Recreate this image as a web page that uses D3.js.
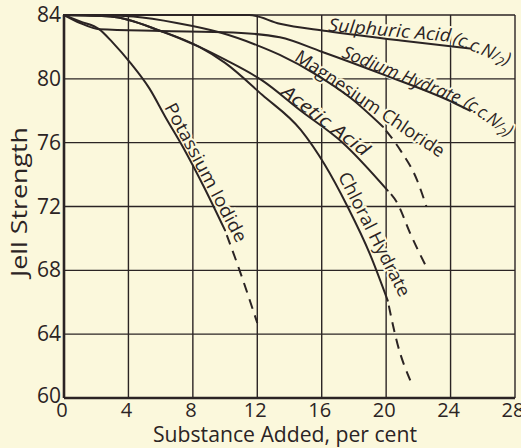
<!DOCTYPE html>
<html>
<head>
<meta charset="utf-8">
<script src="https://cdn.jsdelivr.net/npm/d3@7"></script>
<style>
  html, body { margin: 0; padding: 0; background: #fbf8dc; }
  svg { display: block; }
</style>
</head>
<body>
<svg id="chart" width="521" height="448"></svg>
<script>
// ---------- data ----------
const xTicks = [0, 4, 8, 12, 16, 20, 24, 28];
const yTicks = [60, 64, 68, 72, 76, 80, 84];

const sulphuricSolid = [[0,84],[6,84],[11.5,84],[13.4,83.45],[16.3,83.0],[20.9,82.4],[25.2,81.9]];
const sodiumSolid    = [[0,84],[1,83.5],[2.2,83.1],[6,83.0],[10.5,82.9],[13.4,82.6],[16,81.7],[20,80.2],[24.2,78.5],[25.2,78.0]];
const magnesiumSolid = [[0,84],[2,84],[4.3,83.9],[7,83.5],[9.7,82.9],[12,82.1],[13.4,81.5],[15.6,80.3],[17.8,78.8],[19.8,77.0]];
const magnesiumDash  = [[19.8,77.0],[20.9,75.5],[21.9,73.7],[22.5,72.0]];
const aceticSolid    = [[0,84],[2.9,83.9],[6,83.0],[8.4,82.0],[10,81.2],[12.3,79.9],[14.7,78.0],[17.3,76.0],[20.1,73.0]];
const aceticDash     = [[20.1,73.0],[20.7,72.2],[21.5,70.3],[22.5,68.2]];
const chloralSolid   = [[0,84],[2.9,83.9],[6,83.0],[8.4,82.0],[10,81.0],[12.3,79.0],[14.7,76.8],[16.2,74.6],[17.6,72.0],[19.0,69.0],[20.1,66.1]];
const chloralDash    = [[20.1,66.1],[20.7,63.4],[21.5,61.1]];
const potassiumSolid = [[0,84],[1,83.6],[2.2,83.1],[3,82.3],[4.2,80.9],[5.3,79.4],[6.3,77.6],[7.4,75.7],[8.65,73.3],[10,70.5]];
const potassiumDash  = [[10,70.5],[10.9,68.0],[12,64.7]];

const seriesNames = ["Sulphuric Acid", "Sodium Hydrate", "Magnesium Chloride", "Acetic Acid", "Chloral Hydrate", "Potassium Iodide"];

// ---------- layout ----------
const INK = "#2b2424";
const BG = "#fbf8dc";
const svg = d3.select("#chart");
svg.append("rect").attr("width", 521).attr("height", 448).attr("fill", BG);

const x = d3.scaleLinear().domain([0, 28]).range([64, 515]);
const y = d3.scaleLinear().domain([60, 84]).range([398, 15]);

// grid
const grid = svg.append("g").attr("stroke", INK).attr("stroke-width", 1.4);
grid.selectAll("line.v").data(xTicks).join("line")
  .attr("x1", d => x(d)).attr("x2", d => x(d))
  .attr("y1", y(84)).attr("y2", y(60));
grid.selectAll("line.h").data(yTicks).join("line")
  .attr("y1", d => y(d)).attr("y2", d => y(d))
  .attr("x1", x(0)).attr("x2", x(28));

// curve labels (halo breaks the grid like the hand-drawn original)
const labelFont = "'Open Sans', 'DejaVu Sans', sans-serif";
const labels = [
  { t: "Sulphuric Acid", lx: 16.39, ly: 83.0, a: 5, len: 123, it: true },
  { t: "(c.c.N", sub: true, lx: 24.09, ly: 82.25, a: 22, len: 60, it: true },
  { t: "Sodium Hydrate", lx: 17.2, ly: 81.37, a: 22, len: 126, it: true },
  { t: "(c.c.N", sub: true, lx: 24.77, ly: 78.36, a: 36, len: 55, it: true },
  { t: "Magnesium Chloride", lx: 14.25, ly: 81.2, a: 34, len: 176, it: false },
  { t: "Acetic Acid", lx: 13.41, ly: 79.05, a: 37, len: 105, it: true },
  { t: "Chloral Hydrate", lx: 17.0, ly: 73.91, a: 63, len: 137, it: false },
  { t: "Potassium Iodide", lx: 6.21, ly: 78.24, a: 62, len: 155, it: false }
];
const lg = svg.append("g");
labels.forEach(L => {
  const tx = lg.append("text")
    .attr("transform", `translate(${x(L.lx)},${y(L.ly)}) rotate(${L.a})`)
    .attr("font-family", labelFont)
    .attr("font-size", 18)
    .attr("font-style", L.it ? "italic" : "normal")
    .attr("fill", INK)
    .attr("stroke", BG).attr("stroke-width", 4).attr("paint-order", "stroke")
    .attr("textLength", L.len).attr("lengthAdjust", "spacingAndGlyphs");
  tx.append("tspan").text(L.t);
  if (L.sub) {
    tx.append("tspan").attr("font-size", 14).text("/");
    tx.append("tspan").attr("font-size", 13).attr("dy", 4).text("2");
    tx.append("tspan").attr("dy", -4).text(")");
  }
});

// curves
const line = d3.line().x(d => x(d[0])).y(d => y(d[1])).curve(d3.curveMonotoneX);
const solids = [sulphuricSolid, sodiumSolid, magnesiumSolid, aceticSolid, chloralSolid, potassiumSolid];
const dashes = [magnesiumDash, aceticDash, chloralDash, potassiumDash];
svg.append("g").selectAll("path").data(solids).join("path")
  .attr("d", line).attr("fill", "none").attr("stroke", INK).attr("stroke-width", 2)
  .attr("stroke-linecap", "round");
svg.append("g").selectAll("path").data(dashes).join("path")
  .attr("d", line).attr("fill", "none").attr("stroke", INK).attr("stroke-width", 2)
  .attr("stroke-dasharray", "10,7").attr("stroke-dashoffset", -5);

// axes (heavier left and bottom)
svg.append("line").attr("x1", x(0)).attr("x2", x(0)).attr("y1", y(84)).attr("y2", y(60))
  .attr("stroke", INK).attr("stroke-width", 2.6);
svg.append("line").attr("x1", x(0)).attr("x2", x(28)).attr("y1", y(60)).attr("y2", y(60))
  .attr("stroke", INK).attr("stroke-width", 2.6);

const tickFont = "'Open Sans', 'DejaVu Sans', sans-serif";
svg.append("g").selectAll("text").data(yTicks).join("text")
  .attr("x", x(0) - 3).attr("y", d => y(d) + 7 - (d === 60 ? 2 : 0))
  .attr("text-anchor", "end").attr("font-family", tickFont).attr("font-size", 21)
  .attr("fill", INK).text(d => d);
svg.append("g").selectAll("text").data(xTicks).join("text")
  .attr("x", d => x(d) - 2).attr("y", 417)
  .attr("text-anchor", "middle").attr("font-family", tickFont).attr("font-size", 20)
  .attr("fill", INK).text(d => d);

// axis titles
svg.append("text")
  .attr("transform", "translate(27,202) rotate(-90)")
  .attr("text-anchor", "middle").attr("font-family", tickFont).attr("font-size", 21)
  .attr("fill", INK).attr("textLength", 150).attr("lengthAdjust", "spacingAndGlyphs")
  .text("Jell Strength");
svg.append("text")
  .attr("x", 285).attr("y", 442)
  .attr("text-anchor", "middle").attr("font-family", tickFont).attr("font-size", 21)
  .attr("fill", INK).attr("textLength", 264).attr("lengthAdjust", "spacingAndGlyphs")
  .text("Substance Added, per cent");
</script>
</body>
</html>
